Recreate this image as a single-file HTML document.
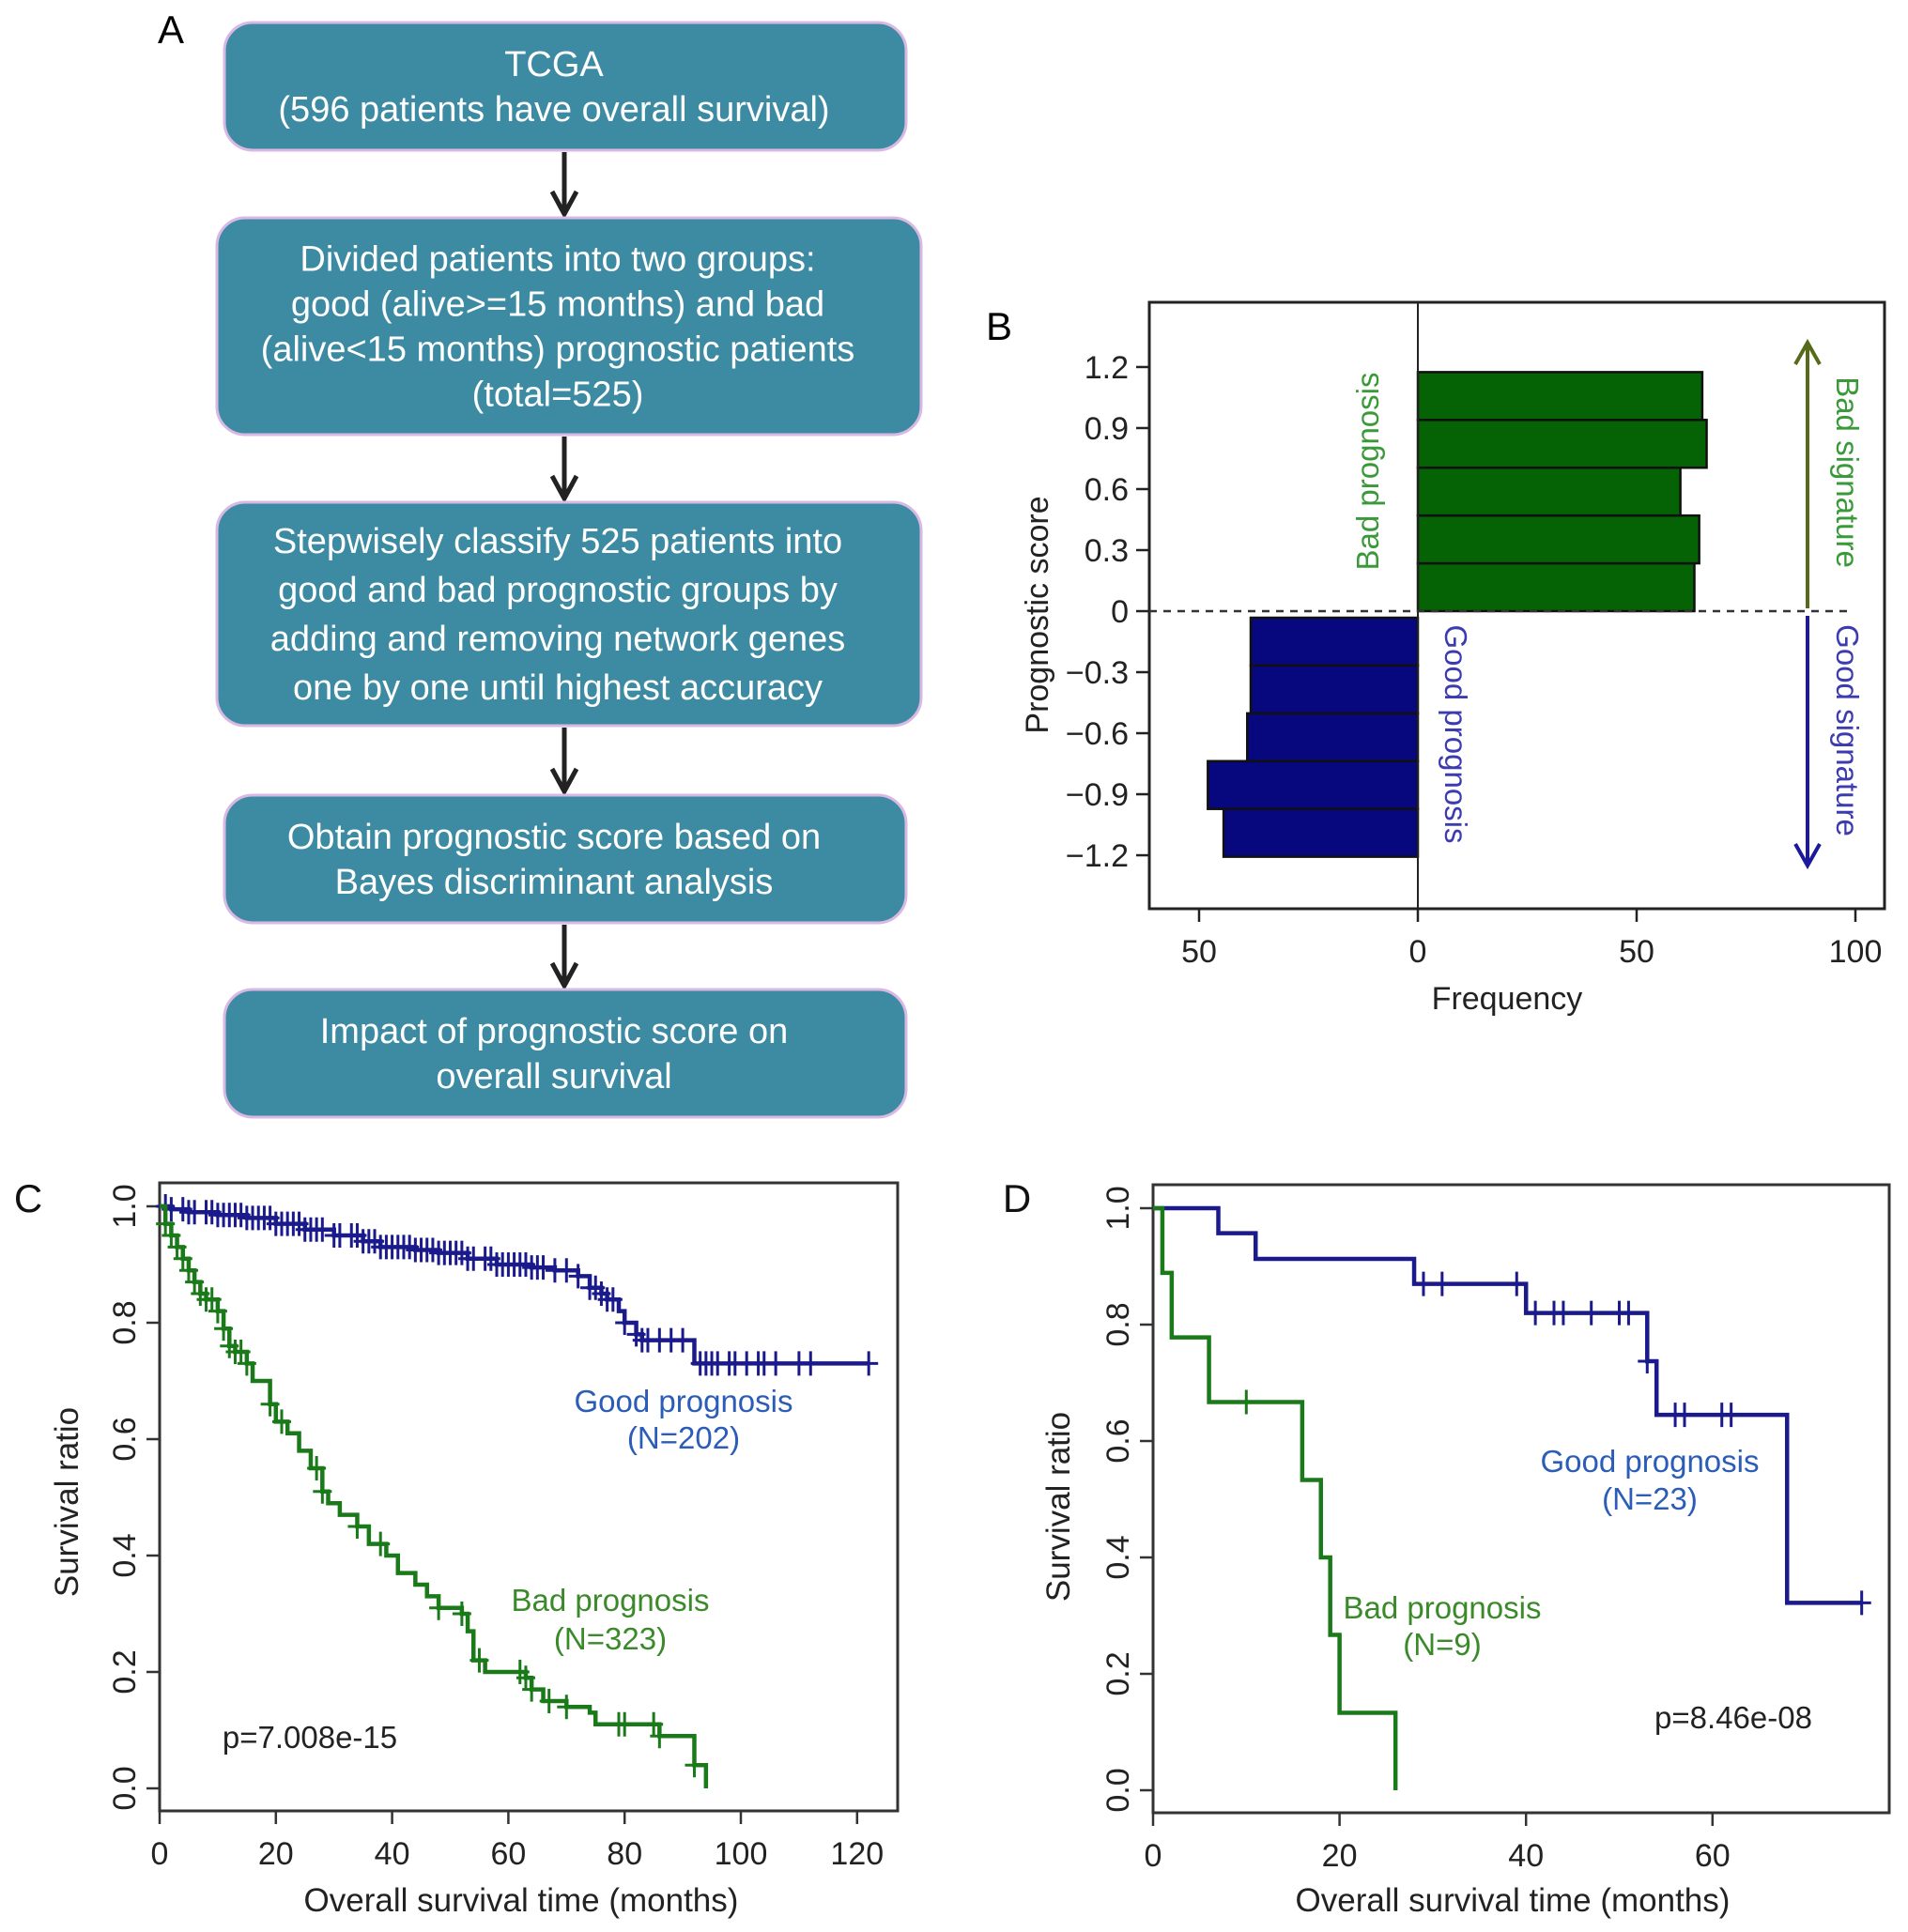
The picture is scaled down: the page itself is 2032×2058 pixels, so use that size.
<!DOCTYPE html>
<html><head><meta charset="utf-8"><style>
html,body{margin:0;padding:0;background:#fff}
svg{display:block}
text{font-family:"Liberation Sans",Arial,sans-serif}
</style></head><body>
<svg id="fig" width="2032" height="2058" viewBox="0 0 2032 2058" xmlns="http://www.w3.org/2000/svg">
<g id="panelA">
<text x="168" y="46" font-size="42">A</text>
</g>
<g id="panelB"></g>
<g id="panelC"></g>
<g id="panelD"></g>
</svg>
<script>
// ---------- Panel B data ----------
const binEdgesGood = [0, 0.235, 0.47, 0.705, 0.94, 1.175];
const badFreq = [63.2, 64.3, 60, 66, 65];
const goodEdges = [0, -0.235, -0.47, -0.705, -0.94, -1.175];
const goodFreq = [38.2, 38.2, 39, 48, 44.4];
const bYTicks = [1.2, 0.9, 0.6, 0.3, 0, -0.3, -0.6, -0.9, -1.2];
const bYTickLabels = ["1.2","0.9","0.6","0.3","0","\u22120.3","\u22120.6","\u22120.9","\u22121.2"];
const bXTicks = [-50, 0, 50, 100];
const bXTickLabels = ["50","0","50","100"];

// ---------- Panel C data ----------
const cGoodT = [0,2,5,10,15,20,25,30,35,38,44,48,53,58,64,68,72,74,76,77,79,80,82,83,92,122];
const cGoodS = [1.0,0.995,0.99,0.985,0.98,0.97,0.96,0.95,0.94,0.93,0.925,0.92,0.91,0.90,0.895,0.89,0.88,0.86,0.85,0.84,0.82,0.80,0.78,0.77,0.73,0.73];
const cGoodCens = [1,2,4,5,6,8,9,10,11,12,13,14,15,16,17,18,19,20,21,22,23,24,25,26,27,28,30,31,33,34,35,36,37,38,39,40,41,42,43,44,45,46,47,48,49,50,51,52,53,54,56,57,58,59,60,61,62,63,64,65,66,68,70,72,74,75,76,77,78,80,82,83,84,86,88,90,93,94,95,96,98,99,101,103,104,106,110,112,122];
const cBadT = [0,1,2,3,4,5,6,7,8,10,11,12,13,15,16,19,20,22,24,26,28,29,31,34,36,39,41,44,46,48,52,53,54,56,63,64,66,70,74,75,86,92,94];
const cBadS = [1.0,0.97,0.95,0.93,0.91,0.89,0.87,0.85,0.84,0.82,0.79,0.76,0.75,0.73,0.70,0.66,0.63,0.61,0.58,0.55,0.51,0.49,0.47,0.45,0.42,0.40,0.37,0.35,0.33,0.31,0.30,0.27,0.22,0.20,0.19,0.17,0.15,0.14,0.13,0.11,0.09,0.04,0.0];
const cBadCens = [1,2,3,4,5,6,7,8,9,10,11,12,13,14,15,19,21,27,28,34,38,48,52,55,62,63,64,67,70,79,80,85,86,92];
const cXTicks = [0,20,40,60,80,100,120];
const cYTicks = [0,0.2,0.4,0.6,0.8,1.0];
const cYTickLabels = ["0.0","0.2","0.4","0.6","0.8","1.0"];

// ---------- Panel D data ----------
const dGoodT = [0,7,11,28,40,53,54,68,76];
const dGoodS = [1.0,0.957,0.913,0.87,0.82,0.737,0.645,0.322,0.322];
const dGoodCens = [29,31,39,41,43,44,47,50,51,53,56,57,61,62,76];
const dBadT = [0,1,2,6,16,18,19,20,26];
const dBadS = [1.0,0.889,0.778,0.667,0.533,0.4,0.267,0.133,0.0];
const dBadCens = [10];
const dXTicks = [0,20,40,60];
const dYTicks = [0,0.2,0.4,0.6,0.8,1.0];
const dYTickLabels = ["0.0","0.2","0.4","0.6","0.8","1.0"];

const NS = "http://www.w3.org/2000/svg";
function mk(parent, tag, attrs, txt){
  const e = document.createElementNS(NS, tag);
  for (const k in attrs) e.setAttribute(k, attrs[k]);
  if (txt !== undefined) e.textContent = txt;
  parent.appendChild(e);
  return e;
}

// ---------- Panel A ----------
const A = document.getElementById('panelA');
const boxes = [
  {x:239,y:24,w:726,h:136,lines:["TCGA","(596 patients have overall survival)"],name:"tcga-box"},
  {x:231,y:232,w:750,h:231,lines:["Divided patients into two groups:","good (alive>=15 months) and bad","(alive<15 months) prognostic patients","(total=525)"],name:"grouping-box"},
  {x:231,y:535,w:750,h:238,lines:["Stepwisely classify 525 patients into","good and bad prognostic groups by","adding and removing network genes","one by one until highest accuracy"],name:"classify-box"},
  {x:239,y:847,w:726,h:136,lines:["Obtain prognostic score based on","Bayes discriminant analysis"],name:"score-box"},
  {x:239,y:1054,w:726,h:136,lines:["Impact of prognostic score on","overall survival"],name:"impact-box"}
];
boxes.forEach((b,i)=>{
  const g = mk(A,'g',{});
  
  
  mk(g,'rect',{x:b.x,y:b.y,width:b.w,height:b.h,rx:30,fill:'#3c8ba3',stroke:'#d9b8e3','stroke-width':3});
  const gap = i==2?52:48;
  const n = b.lines.length;
  const cy = b.y + b.h/2;
  b.lines.forEach((l,j)=>{
    const t = mk(g,'text',{x:b.x+b.w/2 - 12,y:cy + (j-(n-1)/2)*gap + 13,'font-size':38,fill:'#fff','text-anchor':'middle'},l);
    
    
  });
  if (i<4){
    const y1 = b.y+b.h+2, y2 = boxes[i+1].y-4;
    const ar = mk(A,'path',{d:`M601,${y1} V${y2} M588,${y2-24} L601,${y2} L614,${y2-24}`,fill:'none',stroke:'#222','stroke-width':5});
    
    
  }
});

// ---------- Panel B ----------
const B = document.getElementById('panelB');
const bx0=1224,bx1=2007,by0=322,by1=968;
const bfx = v => 1510 + v*4.66;
const bfy = v => 651 - v*216.7;
mk(B,'text',{x:1050,y:362,'font-size':42},'B');
badFreq.forEach((f,i)=>{
  const r = mk(B,'rect',{x:bfx(0),y:bfy(binEdgesGood[i+1]),width:bfx(f)-bfx(0),height:bfy(binEdgesGood[i])-bfy(binEdgesGood[i+1]),fill:'#056205',stroke:'#111','stroke-width':2.5});
  
  
});
goodFreq.forEach((f,i)=>{
  const r = mk(B,'rect',{x:bfx(-f),y:bfy(goodEdges[i])+7,width:bfx(0)-bfx(-f),height:bfy(goodEdges[i+1])-bfy(goodEdges[i]),fill:'#07077e',stroke:'#111','stroke-width':2.5});
  
  
});
mk(B,'rect',{x:bx0,y:by0,width:bx1-bx0,height:by1-by0,fill:'none',stroke:'#222','stroke-width':3});
mk(B,'line',{x1:bfx(0),y1:by0,x2:bfx(0),y2:by1,stroke:'#222','stroke-width':2});
mk(B,'line',{x1:bx0,y1:bfy(0),x2:1970,y2:bfy(0),stroke:'#333','stroke-width':2.5,'stroke-dasharray':'8,7'});
bYTicks.forEach((v,i)=>{
  mk(B,'line',{x1:bx0-14,y1:bfy(v),x2:bx0,y2:bfy(v),stroke:'#222','stroke-width':2.5});
  mk(B,'text',{x:bx0-22,y:bfy(v)+12,'font-size':34,'text-anchor':'end',fill:'#222'},bYTickLabels[i]);
});
bXTicks.forEach((v,i)=>{
  mk(B,'line',{x1:bfx(v),y1:by1,x2:bfx(v),y2:by1+14,stroke:'#222','stroke-width':2.5});
  mk(B,'text',{x:bfx(v),y:by1+57,'font-size':34,'text-anchor':'middle',fill:'#222'},bXTickLabels[i]);
});
mk(B,'text',{x:1605,y:1075,'font-size':34,'text-anchor':'middle',fill:'#222'},'Frequency');
mk(B,'text',{x:0,y:0,'font-size':34,'text-anchor':'middle',fill:'#222',transform:'translate(1116,655) rotate(-90)'},'Prognostic score');
mk(B,'text',{x:0,y:0,'font-size':33,'text-anchor':'middle',fill:'#3a9a3a',transform:'translate(1468,502) rotate(-90)'},'Bad prognosis');
mk(B,'text',{x:0,y:0,'font-size':33,'text-anchor':'middle',fill:'#3c3cb0',transform:'translate(1539,782) rotate(90)'},'Good prognosis');
mk(B,'text',{x:0,y:0,'font-size':33,'text-anchor':'middle',fill:'#3a9a3a',transform:'translate(1956,503) rotate(90)'},'Bad signature');
mk(B,'text',{x:0,y:0,'font-size':33,'text-anchor':'middle',fill:'#3c3cb0',transform:'translate(1956,778) rotate(90)'},'Good signature');
const ga = mk(B,'path',{d:'M1925,648 L1925,365 M1912,388 L1925,365 L1938,388',fill:'none',stroke:'#556b1a','stroke-width':4});

const ba = mk(B,'path',{d:'M1925,656 L1925,922 M1912,899 L1925,922 L1938,899',fill:'none',stroke:'#1a1a9a','stroke-width':4});


// ---------- KM helper ----------
function survAt(T,S,t){ let s=S[0]; for(let i=0;i<T.length;i++){ if(T[i]<=t) s=S[i]; } return s; }
function kmPanel(G, o){
  const fx = v => o.x0 + v*o.px;
  const fy = v => o.y0 - v*o.py;
  mk(G,'rect',{x:o.bx0,y:o.by0,width:o.bx1-o.bx0,height:o.by1-o.by0,fill:'none',stroke:'#333','stroke-width':3});
  o.xt.forEach(v=>{
    mk(G,'line',{x1:fx(v),y1:o.by1,x2:fx(v),y2:o.by1+14,stroke:'#333','stroke-width':2.5});
    mk(G,'text',{x:fx(v),y:o.by1+57,'font-size':34,'text-anchor':'middle',fill:'#222'},String(v));
  });
  o.yt.forEach((v,i)=>{
    mk(G,'line',{x1:o.bx0-14,y1:fy(v),x2:o.bx0,y2:fy(v),stroke:'#333','stroke-width':2.5});
    mk(G,'text',{x:0,y:0,'font-size':34,'text-anchor':'middle',fill:'#222',transform:`translate(${o.bx0-26},${fy(v)}) rotate(-90)`},o.ytl[i]);
  });
  o.series.forEach(s=>{
    let d = `M${fx(s.T[0])},${fy(s.S[0])}`;
    for(let i=1;i<s.T.length;i++){ d += ` H${fx(s.T[i])} V${fy(s.S[i])}`; }
    const p = mk(G,'path',{d:d,fill:'none',stroke:s.c,'stroke-width':4.5,'stroke-linejoin':'miter'});
    
    
    s.cens.forEach(t=>{
      const yy = fy(survAt(s.T,s.S,t));
      const m = mk(G,'path',{d:`M${fx(t)-10},${yy} H${fx(t)+10} M${fx(t)},${yy-13} V${yy+13}`,stroke:s.c,'stroke-width':3,fill:'none'});
      
      
    });
  });
  o.labels.forEach(l=>{
    const t = mk(G,'text',{x:l.x,y:l.y,'font-size':l.fs||33,'text-anchor':'middle',fill:l.c},l.t);
    
    
  });
}

kmPanel(document.getElementById('panelC'),{
  bx0:170,by0:1260,bx1:956,by1:1929,x0:170,px:6.19,y0:1905,py:620,
  xt:cXTicks,yt:cYTicks,ytl:cYTickLabels,
  series:[
    {T:cGoodT,S:cGoodS,cens:cGoodCens,c:'#1a1a8c',name:'good-prognosis-curve'},
    {T:cBadT,S:cBadS,cens:cBadCens,c:'#1a7a1a',name:'bad-prognosis-curve'}
  ],
  labels:[
    {x:30,y:1291,t:'C',c:'#111',fs:42,n:'panel-c-label'},
    {x:728,y:1504,t:'Good prognosis',c:'#2a5cb8',n:'good-prognosis-label'},
    {x:728,y:1543,t:'(N=202)',c:'#2a5cb8',n:'good-n-label'},
    {x:650,y:1716,t:'Bad prognosis',c:'#3a8a2a',n:'bad-prognosis-label'},
    {x:650,y:1757,t:'(N=323)',c:'#3a8a2a',n:'bad-n-label'},
    {x:330,y:1862,t:'p=7.008e-15',c:'#222',n:'p-value-label'},
    {x:555,y:2036,t:'Overall survival time (months)',c:'#222',fs:35,n:'x-axis-title'}
  ]
});
mk(document.getElementById('panelC'),'text',{x:0,y:0,'font-size':35,'text-anchor':'middle',fill:'#222',transform:'translate(83,1600) rotate(-90)'},'Survival ratio');

kmPanel(document.getElementById('panelD'),{
  bx0:1228,by0:1262,bx1:2012,by1:1931,x0:1228,px:9.93,y0:1907,py:620,
  xt:dXTicks,yt:dYTicks,ytl:dYTickLabels,
  series:[
    {T:dGoodT,S:dGoodS,cens:dGoodCens,c:'#1a1a8c',name:'good-prognosis-curve'},
    {T:dBadT,S:dBadS,cens:dBadCens,c:'#1a7a1a',name:'bad-prognosis-curve'}
  ],
  labels:[
    {x:1083,y:1291,t:'D',c:'#111',fs:42,n:'panel-d-label'},
    {x:1757,y:1568,t:'Good prognosis',c:'#2a5cb8',n:'good-prognosis-label'},
    {x:1757,y:1608,t:'(N=23)',c:'#2a5cb8',n:'good-n-label'},
    {x:1536,y:1724,t:'Bad prognosis',c:'#3a8a2a',n:'bad-prognosis-label'},
    {x:1536,y:1763,t:'(N=9)',c:'#3a8a2a',n:'bad-n-label'},
    {x:1846,y:1841,t:'p=8.46e-08',c:'#222',n:'p-value-label'},
    {x:1611,y:2036,t:'Overall survival time (months)',c:'#222',fs:35,n:'x-axis-title'}
  ]
});
mk(document.getElementById('panelD'),'text',{x:0,y:0,'font-size':35,'text-anchor':'middle',fill:'#222',transform:'translate(1139,1605) rotate(-90)'},'Survival ratio');
</script>
</body></html>
